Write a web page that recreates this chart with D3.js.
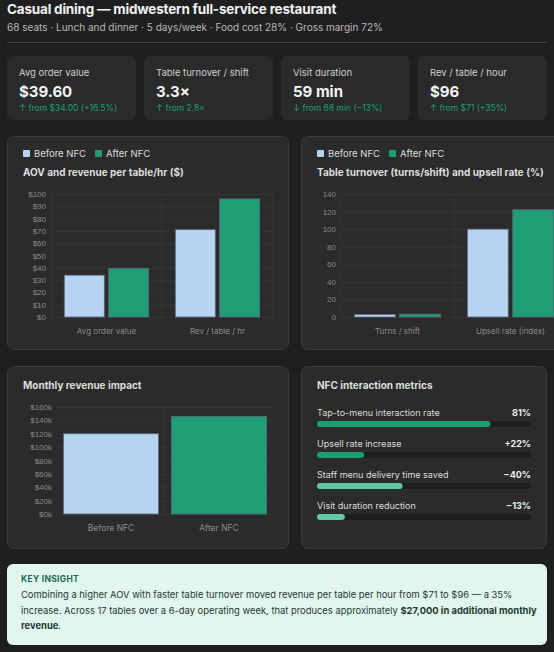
<!DOCTYPE html>
<html><head><meta charset="utf-8">
<script src="https://cdn.jsdelivr.net/npm/d3@7"></script>
<style>
body{margin:0;background:#1f1f1f;font-family:Inter,"Noto Sans",sans-serif;color:#eee;width:554px;height:652px;overflow:hidden;position:relative}
.abs{position:absolute}
h1{position:absolute;left:7px;top:1px;margin:0;font-size:13.5px;font-weight:700;color:#f2f2f2;letter-spacing:-0.2px}
.sub{left:7px;top:21px;font-size:10px;color:#b8b8b8}
.rule{left:7px;top:42px;width:540px;height:1px;background:#444}
.card{position:absolute;top:56px;width:129px;height:64px;background:#2a2a2a;border-radius:6px}
.card .l{position:absolute;left:12px;top:11px;font-size:9.5px;color:#cfcfcf}
.card .v{position:absolute;left:12px;top:26px;font-size:15px;font-weight:700;color:#f4f4f4}
.card .d{position:absolute;left:12px;top:47px;font-size:8.5px;color:#1d9e75}
.panel{position:absolute;background:#2b2b2b;border:1px solid #3c3c3c;border-radius:7px;box-sizing:border-box}
.insight{left:7px;top:564px;width:540px;height:81px;background:#e2f5ee;border-radius:6px;color:#1c3a30}
.insight .k{position:absolute;left:14px;top:10px;font-size:8.5px;font-weight:700;color:#146c50;letter-spacing:0.3px}
.insight .t{position:absolute;left:14px;top:23px;width:520px;font-size:9.4px;line-height:15.5px}
svg{position:absolute;left:0;top:0}
</style></head><body>
<h1>Casual dining — midwestern full-service restaurant</h1>
<div class="abs sub">68 seats · Lunch and dinner · 5 days/week · Food cost 28% · Gross margin 72%</div>
<div class="abs rule"></div>
<div id="cards"></div>
<div class="panel" style="left:7px;top:136px;width:282px;height:214px"></div>
<div class="panel" style="left:301px;top:136px;width:280px;height:214px"></div>
<div class="panel" style="left:7px;top:366px;width:282px;height:183px"></div>
<div class="panel" style="left:301px;top:366px;width:246px;height:183px"></div>
<div class="abs insight"><div class="k">KEY INSIGHT</div>
<div class="t">Combining a higher AOV with faster table turnover moved revenue per table per hour from $71 to $96 — a 35% increase. Across 17 tables over a 6-day operating week, that produces approximately <b>$27,000 in additional monthly revenue</b>.</div></div>
<svg id="s" width="554" height="652"></svg>
<script>
const kpiLabels=["Avg order value","Table turnover / shift","Visit duration","Rev / table / hour"];
const kpiValues=["$39.60","3.3×","59 min","$96"];
const kpiDeltas=["↑ from $34.00 (+16.5%)","↑ from 2.8×","↓ from 68 min (−13%)","↑ from $71 (+35%)"];
const series=["Before NFC","After NFC"];
const aovCats=["Avg order value","Rev / table / hr"];
const aovBefore=[34,71], aovAfter=[39.6,96];
const turnCats=["Turns / shift","Upsell rate (index)"];
const turnBefore=[2.8,100], turnAfter=[3.3,122];
const revCats=["Before NFC","After NFC"];
const revValues=[120000,146000];
const metricLabels=["Tap-to-menu interaction rate","Upsell rate increase","Staff menu delivery time saved","Visit duration reduction"];
const metricValues=[81,22,40,13];
const metricText=["81%","+22%","−40%","−13%"];

const BEFORE="#b6d4f2",AFTER="#1d9e75",GRID="#3a3a3a",TXT="#8a8a8a";
d3.select("#cards").selectAll("div").data(kpiLabels).join("div").attr("class","card")
  .style("left",(d,i)=>(7+i*137)+"px")
  .html((d,i)=>`<div class="l">${d}</div><div class="v">${kpiValues[i]}</div><div class="d">${kpiDeltas[i]}</div>`);

const svg=d3.select("#s");
function legend(x,y){
  const g=svg.append("g").attr("transform",`translate(${x},${y})`);
  series.forEach((s,i)=>{
    const o=i?72:0;
    g.append("rect").attr("x",o).attr("y",-7).attr("width",7).attr("height",7).attr("rx",1).attr("fill",i?AFTER:BEFORE);
    g.append("text").attr("x",o+11).attr("y",0).attr("font-size",9.5).attr("fill","#ddd").text(s);
  });
}
function title(x,y,t){svg.append("text").attr("x",x).attr("y",y).attr("font-size",10).attr("font-weight",700).attr("fill","#ddd").text(t);}
function grouped(x0,x1,y0,y1,max,step,cats,b,a,fmt){
  const x=d3.scaleBand().domain(cats).range([x0,x1]);
  const y=d3.scaleLinear().domain([0,max]).range([y0,y1]);
  const g=svg.append("g");
  g.append("g").attr("transform",`translate(${x0},0)`).call(d3.axisLeft(y).tickValues(d3.range(0,max+1,step)).tickSize(-(x1-x0)).tickFormat(fmt))
   .call(s=>{s.select(".domain").remove();s.selectAll("line").attr("stroke",GRID).attr("stroke-width",0.6);s.selectAll("text").attr("fill",TXT).attr("font-size",8).attr("dx",-2);});
  cats.forEach(c=>g.append("line").attr("x1",x(c)+x.bandwidth()).attr("x2",x(c)+x.bandwidth()).attr("y1",y1).attr("y2",y0+5).attr("stroke",GRID).attr("stroke-width",0.6));
  g.append("line").attr("x1",x0).attr("x2",x0).attr("y1",y1).attr("y2",y0+5).attr("stroke",GRID).attr("stroke-width",0.6);
  const inner=d3.scaleBand().domain([0,1]).range([0,x.bandwidth()]).paddingInner(0.1).paddingOuter(0.3);
  [b,a].forEach((vals,k)=>g.selectAll(null).data(cats).join("rect")
    .attr("x",c=>x(c)+inner(k)).attr("width",inner.bandwidth())
    .attr("y",(c,i)=>y(vals[i])).attr("height",(c,i)=>y0-y(vals[i]))
    .attr("fill",k?AFTER:BEFORE).attr("stroke","#5b6b7a").attr("stroke-width",0.8));
  g.selectAll(null).data(cats).join("text").attr("x",c=>x(c)+x.bandwidth()/2).attr("y",y0+17)
    .attr("text-anchor","middle").attr("font-size",8).attr("fill",TXT).text(c=>c);
}
legend(23,157); title(23,176,"AOV and revenue per table/hr ($)");
grouped(51,273,317,194,100,10,aovCats,aovBefore,aovAfter,d=>"$"+d);
legend(317,157); title(317,176,"Table turnover (turns/shift) and upsell rate (%)");
grouped(341,567,317,194,140,20,turnCats,turnBefore,turnAfter,d=>d);

title(23,389,"Monthly revenue impact");
{
  const x=d3.scaleBand().domain(revCats).range([57,273]).paddingInner(0.12).paddingOuter(0.06);
  const y=d3.scaleLinear().domain([0,160000]).range([514,407]);
  const g=svg.append("g");
  g.append("g").attr("transform","translate(57,0)").call(d3.axisLeft(y).ticks(8).tickSize(-216).tickFormat(d=>"$"+d/1000+"k"))
   .call(s=>{s.select(".domain").remove();s.selectAll("line").attr("stroke",GRID).attr("stroke-width",0.6);s.selectAll("text").attr("fill",TXT).attr("font-size",8).attr("dx",-2);});
  g.append("line").attr("x1",165).attr("x2",165).attr("y1",407).attr("y2",519).attr("stroke",GRID).attr("stroke-width",0.6);
  g.selectAll(null).data(revCats).join("rect").attr("x",c=>x(c)).attr("width",x.bandwidth())
   .attr("y",(c,i)=>y(revValues[i])).attr("height",(c,i)=>514-y(revValues[i]))
   .attr("fill",(c,i)=>i?AFTER:BEFORE).attr("stroke","#5b6b7a").attr("stroke-width",0.8);
  g.selectAll(null).data(revCats).join("text").attr("x",c=>x(c)+x.bandwidth()/2).attr("y",531)
   .attr("text-anchor","middle").attr("font-size",8.5).attr("fill",TXT).text(c=>c);
}

title(317,389,"NFC interaction metrics");
{
  const w=d3.scaleLinear().domain([0,100]).range([0,214]);
  metricLabels.forEach((l,i)=>{
    const y=416+i*31;
    svg.append("text").attr("x",317).attr("y",y).attr("font-size",9).attr("fill","#ddd").text(l);
    svg.append("text").attr("x",531).attr("y",y).attr("text-anchor","end").attr("font-size",9).attr("font-weight",700).attr("fill","#eee").text(metricText[i]);
    svg.append("rect").attr("x",317).attr("y",y+5).attr("width",214).attr("height",6).attr("rx",3).attr("fill","#1e1e1e");
    svg.append("rect").attr("x",317).attr("y",y+5).attr("width",w(metricValues[i])).attr("height",6).attr("rx",3).attr("fill",i<2?"#1a9e72":"#5cc9a7");
  });
}
</script></body></html>
